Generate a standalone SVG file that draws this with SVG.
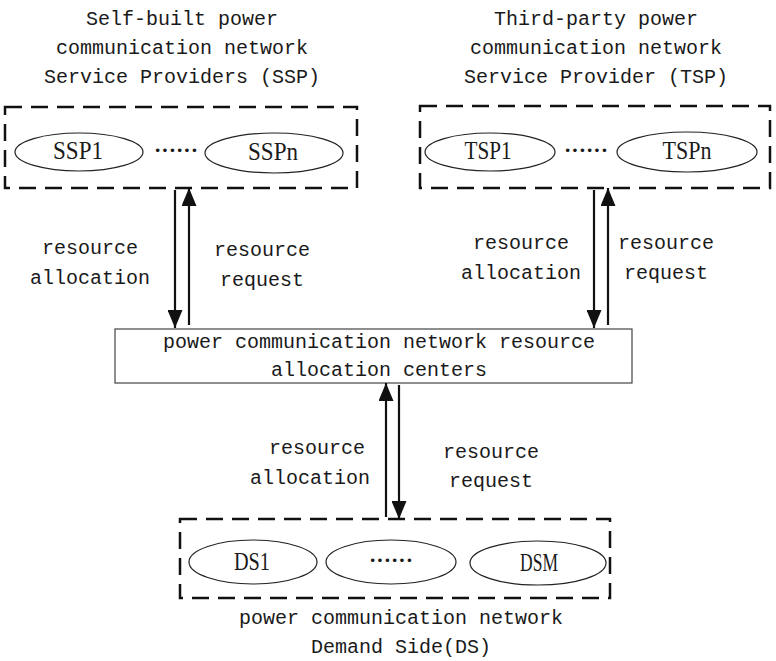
<svg xmlns="http://www.w3.org/2000/svg" width="776" height="661" viewBox="0 0 776 661">
<style>
.t{font-family:"Liberation Mono",monospace;font-size:20px;fill:#1a1a1a;text-anchor:middle}
.e{font-family:"Liberation Serif",serif;font-size:26px;fill:#1a1a1a;text-anchor:middle}
.d{font-family:"Liberation Serif",serif;font-size:22px;font-weight:bold;fill:#1a1a1a;text-anchor:middle}
.grp{fill:none;stroke:#111;stroke-width:2.5;stroke-dasharray:17 9}
.el{fill:#fff;stroke:#222;stroke-width:1.2}
.ln{stroke:#111;stroke-width:2.2;fill:none}
</style>
<defs>
<marker id="ah" markerWidth="18" markerHeight="15" refX="18" refY="7.5" orient="auto" markerUnits="userSpaceOnUse" viewBox="0 0 18 15">
<path d="M0,0 L18,7.5 L0,15 Z" fill="#111"/>
</marker>
</defs>
<rect width="776" height="661" fill="#fff"/>
<g id="ssp">
<text class="t" x="182" y="25">Self-built power</text>
<text class="t" x="182" y="54">communication network</text>
<text class="t" x="182" y="83">Service Providers (SSP)</text>
<rect class="grp" x="5" y="107" width="352" height="81"/>
<ellipse class="el" cx="79" cy="152" rx="64" ry="19"/>
<text class="e" x="78" y="159" textLength="50" lengthAdjust="spacingAndGlyphs">SSP1</text>
<text class="d" x="176" y="157">······</text>
<ellipse class="el" cx="274" cy="153" rx="69" ry="20"/>
<text class="e" x="273" y="160" textLength="50" lengthAdjust="spacingAndGlyphs">SSPn</text>
</g>
<g id="tsp">
<text class="t" x="596" y="25">Third-party power</text>
<text class="t" x="596" y="54">communication network</text>
<text class="t" x="596" y="83">Service Provider (TSP)</text>
<rect class="grp" x="420" y="106" width="350" height="82"/>
<ellipse class="el" cx="490" cy="152" rx="65" ry="19"/>
<text class="e" x="488" y="159" textLength="47" lengthAdjust="spacingAndGlyphs">TSP1</text>
<text class="d" x="586" y="157">······</text>
<ellipse class="el" cx="687" cy="152" rx="70" ry="20"/>
<text class="e" x="687" y="159" textLength="49" lengthAdjust="spacingAndGlyphs">TSPn</text>
</g>
<g id="center">
<rect x="115" y="329" width="517" height="54" fill="#fff" stroke="#444" stroke-width="1.2"/>
<text class="t" x="379" y="348">power communication network resource</text>
<text class="t" x="379" y="376">allocation centers</text>
</g>
<g id="ds">
<rect class="grp" x="180" y="519" width="430" height="79"/>
<ellipse class="el" cx="253" cy="562" rx="64" ry="22"/>
<text class="e" x="252" y="570" textLength="36" lengthAdjust="spacingAndGlyphs">DS1</text>
<ellipse class="el" cx="391" cy="562" rx="65" ry="22"/>
<text class="d" x="391" y="567">······</text>
<ellipse class="el" cx="538" cy="563" rx="68" ry="22"/>
<text class="e" x="539" y="571" textLength="38" lengthAdjust="spacingAndGlyphs">DSM</text>
<text class="t" x="401" y="624">power communication network</text>
<text class="t" x="401" y="653">Demand Side(DS)</text>
</g>
<g id="connectors">
<line class="ln" x1="175" y1="190" x2="175" y2="328" marker-end="url(#ah)"/>
<line class="ln" x1="189" y1="325" x2="189" y2="188" marker-end="url(#ah)"/>
<line class="ln" x1="594" y1="190" x2="594" y2="328" marker-end="url(#ah)"/>
<line class="ln" x1="608" y1="325" x2="608" y2="188" marker-end="url(#ah)"/>
<line class="ln" x1="386" y1="517" x2="386" y2="383" marker-end="url(#ah)"/>
<line class="ln" x1="399" y1="385" x2="399" y2="519" marker-end="url(#ah)"/>
</g>
<g id="labels">
<text class="t" x="90" y="254">resource</text>
<text class="t" x="90" y="284">allocation</text>
<text class="t" x="262" y="256">resource</text>
<text class="t" x="262" y="286">request</text>
<text class="t" x="521" y="249">resource</text>
<text class="t" x="521" y="279">allocation</text>
<text class="t" x="666" y="249">resource</text>
<text class="t" x="666" y="279">request</text>
<text class="t" x="317" y="454">resource</text>
<text class="t" x="310" y="484">allocation</text>
<text class="t" x="491" y="458">resource</text>
<text class="t" x="491" y="487">request</text>
</g>
</svg>
